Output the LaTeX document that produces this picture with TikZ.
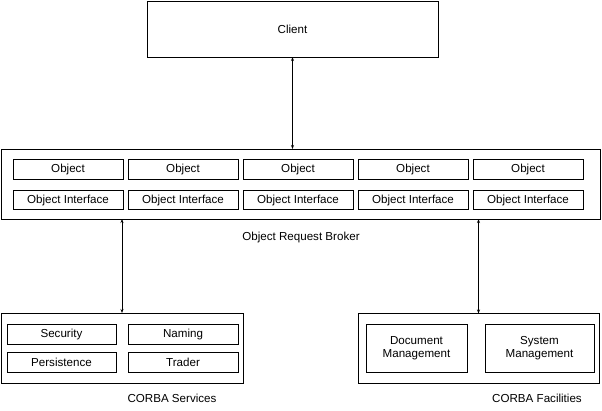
\documentclass[tikz,border=0pt]{standalone}
\usepackage{fontspec}
\setmainfont{Liberation Sans}
\usetikzlibrary{positioning,arrows.meta}

\begin{document}
\begin{tikzpicture}[
    x=1pt, y=1pt,
    >={Stealth[length=4pt,width=3pt]},
    frame/.style={draw, line width=0.8pt, inner sep=0pt, outer sep=0pt},
    item/.style={draw, line width=0.8pt, minimum width=110pt, minimum height=20pt,
                 inner sep=0pt, outer sep=0pt, font=\fontsize{11.6}{13.5}\selectfont},
    label/.style={font=\fontsize{11.6}{13.5}\selectfont},
    arrow/.style={<->, line width=0.8pt},
]
    \useasboundingbox (0,0) rectangle (602,-410);

    % Client
    \node[frame, minimum width=291pt, minimum height=56pt, font=\fontsize{11.6}{13.5}\selectfont]
        (client) at (292.5,-29) {Client};

    % Object Request Broker
    \node[frame, minimum width=599pt, minimum height=70pt] (orb) at (300.5,-184) {};
    \node[item] (obj1) at (68,-169) {Object};
    \node[item, right=5pt of obj1] (obj2) {Object};
    \node[item, right=5pt of obj2] (obj3) {Object};
    \node[item, right=5pt of obj3] (obj4) {Object};
    \node[item, right=5pt of obj4] (obj5) {Object};
    \node[item, minimum height=19pt, below=11.5pt of obj1] (oi1) {Object Interface};
    \node[item, minimum height=19pt, below=11.5pt of obj2] (oi2) {Object Interface};
    \node[item, minimum height=19pt, below=11.5pt of obj3] (oi3) {Object Interface};
    \node[item, minimum height=19pt, below=11.5pt of obj4] (oi4) {Object Interface};
    \node[item, minimum height=19pt, below=11.5pt of obj5] (oi5) {Object Interface};
    \node[label] (orblabel) at (301,-237) {Object Request Broker};

    % CORBA Services
    \node[frame, minimum width=242pt, minimum height=70pt] (services) at (122,-348) {};
    \node[item, minimum width=109pt] (security) at (61.5,-334) {Security};
    \node[item, right=12pt of security] (naming) {Naming};
    \node[item, minimum width=109pt, below=8pt of security] (persist) {Persistence};
    \node[item, right=12pt of persist] (trader) {Trader};
    \node[label] (srvlabel) at (172,-398) {CORBA Services};

    % CORBA Facilities
    \node[frame, minimum width=241pt, minimum height=70pt] (facil) at (478.5,-348.5) {};
    \node[item, minimum width=101pt, minimum height=48pt, align=center]
        (docmgmt) at (416.5,-348) {Document\\Management};
    \node[item, minimum width=109pt, minimum height=48pt, align=center, right=18pt of docmgmt]
        (sysmgmt) {System\\Management};
    \node[label] (faclabel) at (537,-398) {CORBA Facilities};

    % Connections
    \draw[arrow] (client.south) -- (client.south |- orb.north);
    \draw[arrow] (services.north |- orb.south) -- (services.north);
    \draw[arrow] (facil.north |- orb.south) -- (facil.north);

\end{tikzpicture}
\end{document}
